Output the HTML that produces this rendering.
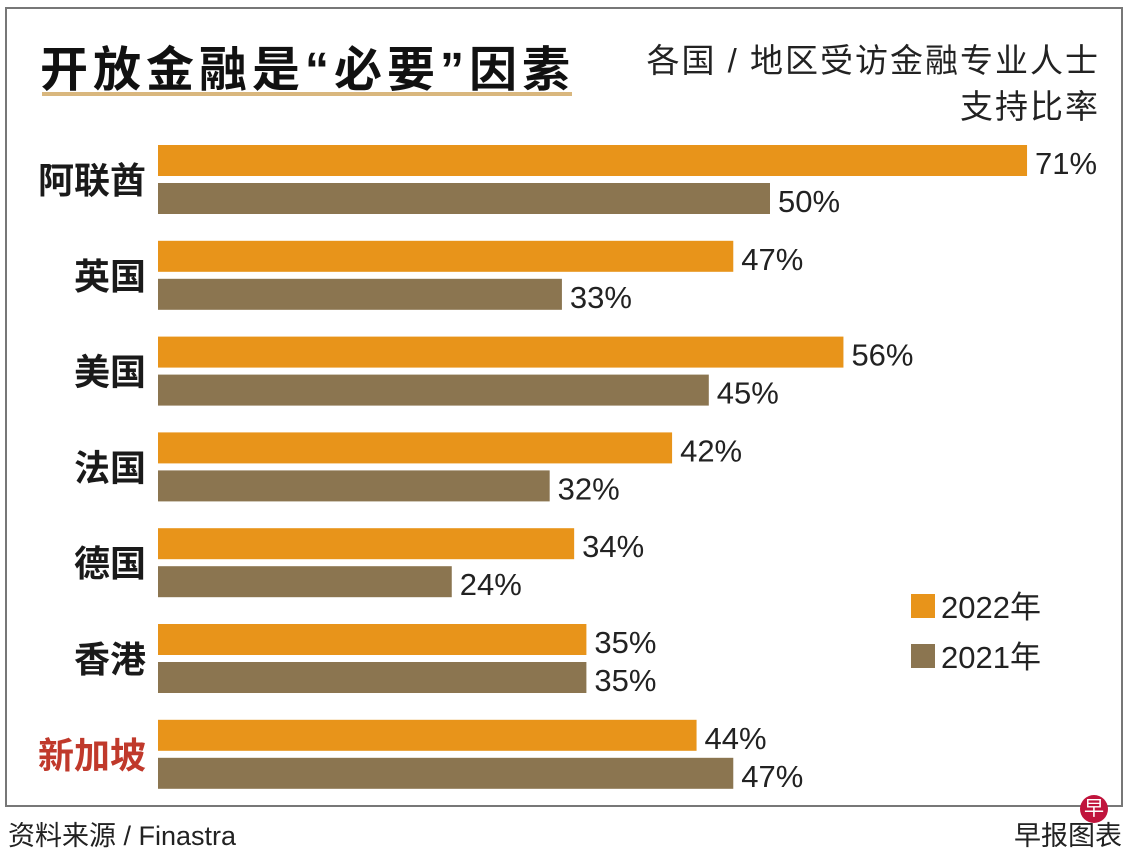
<!DOCTYPE html>
<html><head><meta charset="utf-8"><style>
body{margin:0;background:#fff;width:1140px;height:862px;overflow:hidden;font-family:"Liberation Sans","Noto Sans CJK SC",sans-serif}
#frame{position:absolute;left:5px;top:7px;width:1118px;height:800px;border:2px solid #777;box-sizing:border-box}
.t{position:absolute;white-space:nowrap}
</style></head><body>
<div id="frame"></div>
<div class="t" style="left:40px;top:30px;font-size:48px;font-weight:bold;color:#111;letter-spacing:5px">开放金融是“必要”因素</div>
<div style="position:absolute;left:42px;top:92px;width:530px;height:4px;background:#D9B77E"></div>
<div class="t" style="right:40px;top:38px;font-size:33px;color:#222;text-align:right;line-height:46px;letter-spacing:2px">各国 / 地区受访金融专业人士<br>支持比率</div>
<svg id="chart" width="1140" height="862" style="position:absolute;left:0;top:0"></svg>
<div class="t" style="left:8px;top:814px;font-size:27px;color:#222">资料来源 / Finastra</div>
<div class="t" style="right:18px;top:814px;font-size:27px;color:#222">早报图表</div>
<div style="position:absolute;left:1080px;top:795px;width:28px;height:28px;border-radius:50%;background:#c0143c;color:#fff;font-size:20px;text-align:center;line-height:28px">早</div>
<script>
const categories=["阿联酋","英国","美国","法国","德国","香港","新加坡"];
const values2022=[71,47,56,42,34,35,44];
const values2021=[50,33,45,32,24,35,47];
const seriesNames=["2022年","2021年"];
const svg=document.getElementById('chart');
const NS="http://www.w3.org/2000/svg";
const x0=158,pxPer=12.24,y0=145,step=95.8,bh=31;
const xScale=v=>x0+v*pxPer;
const yScale=i=>y0+i*step;
function mk(t,a){const e=document.createElementNS(NS,t);for(const k in a)e.setAttribute(k,a[k]);svg.appendChild(e);return e;}
categories.forEach((c,i)=>{
  const y=yScale(i);
  const lab=mk('text',{x:146,y:y+48,'text-anchor':'end','font-size':36,'font-weight':'bold',fill:c==="新加坡"?'#C0392B':'#1a1a1a'});
  lab.textContent=c;
  
  
  [[values2022[i],'#E8941A',0],[values2021[i],'#8B7550',38]].forEach(([v,col,off])=>{
    const r=mk('rect',{x:x0,y:y+off,width:xScale(v)-x0,height:bh,fill:col});
    
    
    const t=mk('text',{x:xScale(v)+8,y:y+off+29,'font-size':31,fill:'#222'});
    t.textContent=v+'%';
    
    
  });
});
[['#E8941A',594],['#8B7550',644]].forEach(([col,y],k)=>{
  const r=mk('rect',{x:911,y:y,width:24,height:24,fill:col});
  
  
  const t=mk('text',{x:941,y:y+24,'font-size':31,fill:'#222'});
  t.textContent=seriesNames[k];
  
  
});
</script>
</body></html>
